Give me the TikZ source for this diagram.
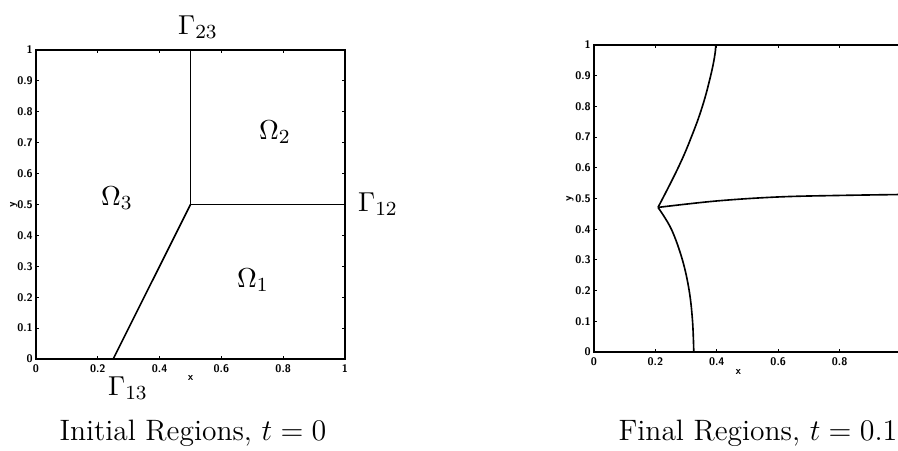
\documentclass[tikz,border=0pt]{standalone}
\usepackage{tikz}
\usetikzlibrary{positioning,calc}

\begin{document}
\begin{tikzpicture}[
    x=0.4pt, y=0.4pt,
    frame/.style={line width=0.45pt},
    bdry/.style={line width=0.65pt},
    ticklab/.style={font=\fontsize{4.4}{5}\selectfont\sffamily\bfseries, inner sep=0.6pt},
    region/.style={font=\fontsize{11}{13}\selectfont},
    caption/.style={font=\fontsize{11.8}{14}\selectfont}
]
\useasboundingbox (0,0) rectangle (898,451);

% initial regions
\begin{scope}[shift={(36,92)}, scale=309]
\draw[frame] (0,0) rectangle (1,1);
\foreach \x in {0.2,0.4,0.6,0.8}{
  \draw[frame] (\x,0) -- ++(0,0.01);
  \draw[frame] (\x,1) -- ++(0,-0.01);
}
\foreach \y in {0.1,0.2,0.3,0.4,0.5,0.6,0.7,0.8,0.9}{
  \draw[frame] (0,\y) -- ++(0.01,0);
  \draw[frame] (1,\y) -- ++(-0.01,0);
}
\foreach \x in {0,0.2,0.4,0.6,0.8,1}
  \node[ticklab, anchor=north] at (\x,-0.012) {\x};
\foreach \y in {0,0.1,0.2,0.3,0.4,0.5,0.6,0.7,0.8,0.9,1}
  \node[ticklab, anchor=east] at (-0.004,\y) {\y};
\node[ticklab] (xlabA) at (0.5,-0.062) {x};
\node[ticklab, rotate=90] (ylabA) at (-0.072,0.5) {y};

\coordinate (tjA) at (0.5,0.5);
\coordinate (topA) at (0.5,1);
\coordinate (rightA) at (1,0.5);
\coordinate (botA) at (0.25,0);
\draw[bdry] (topA) -- (tjA) -- (rightA);
\draw[bdry] (tjA) -- (botA);
\end{scope}

\node[region] (g23) at (198,424) {$\Gamma_{23}$};
\node[region] (g12) at (378,247) {$\Gamma_{12}$};
\node[region] (g13) at (128,63) {$\Gamma_{13}$};
\node[region] (om2) at (275,319) {$\Omega_2$};
\node[region] (om3) at (117,253) {$\Omega_3$};
\node[region] (om1) at (253,171) {$\Omega_1$};
\node[caption] (capA) at (193,18) {Initial Regions, $t=0$};

% final regions
\begin{scope}[shift={(594,99)}, scale=307]
\draw[frame] (0,0) rectangle (1,1);
\foreach \x in {0.2,0.4,0.6,0.8}{
  \draw[frame] (\x,0) -- ++(0,0.01);
  \draw[frame] (\x,1) -- ++(0,-0.01);
}
\foreach \y in {0.1,0.2,0.3,0.4,0.5,0.6,0.7,0.8,0.9}{
  \draw[frame] (0,\y) -- ++(0.01,0);
  \draw[frame] (1,\y) -- ++(-0.01,0);
}
\foreach \x in {0,0.2,0.4,0.6,0.8}
  \node[ticklab, anchor=north] at (\x,-0.012) {\x};
\foreach \y in {0,0.1,0.2,0.3,0.4,0.5,0.6,0.7,0.8,0.9,1}
  \node[ticklab, anchor=east] at (-0.004,\y) {\y};
\node[ticklab] (xlabB) at (0.47,-0.065) {x};
\node[ticklab, rotate=90] (ylabB) at (-0.078,0.5) {y};

\coordinate (tjB) at (0.209,0.472);
\draw[bdry] plot[smooth, tension=0.7] coordinates
  {(tjB) (0.274,0.6) (0.317,0.7) (0.353,0.8) (0.38,0.9) (0.394,0.97) (0.396,1)};
\draw[bdry] plot[smooth, tension=0.6] coordinates
  {(tjB) (0.252,0.4) (0.288,0.3) (0.31,0.2) (0.321,0.1) (0.325,0)};
\draw[bdry] plot[smooth, tension=0.6] coordinates
  {(tjB) (0.4,0.492) (0.6,0.505) (0.8,0.51) (1,0.513)};
\end{scope}

\node[caption] (capB) at (758,18) {Final Regions, $t=0.1$};
\end{tikzpicture}
\end{document}
